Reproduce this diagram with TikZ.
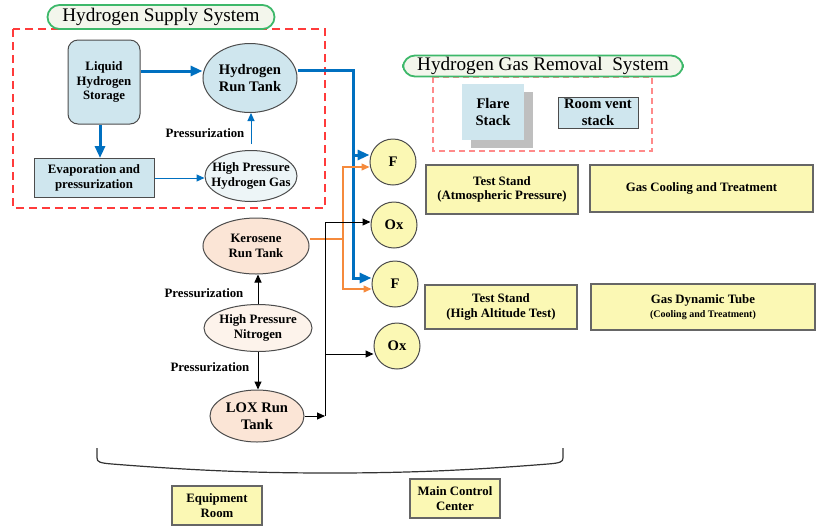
\documentclass[tikz,border=0pt]{standalone}
\usepackage{fontspec}
\setmainfont{Liberation Serif}
\usepackage{tikz}
\usetikzlibrary{arrows.meta}
\usetikzlibrary{shapes.geometric}
\usetikzlibrary{shadows}

\definecolor{hblue}{HTML}{0070C0}
\definecolor{korange}{HTML}{F58A3C}
\definecolor{lblue}{HTML}{CFE6EE}
\definecolor{hgasfill}{HTML}{EDF5F7}
\definecolor{kfill}{HTML}{FBE5D6}
\definecolor{nfill}{HTML}{FDF3EB}
\definecolor{standyellow}{HTML}{FBF8B4}
\definecolor{titlefill}{HTML}{F3F6EC}
\definecolor{titlegreen}{HTML}{3DB86A}
\definecolor{dashred}{HTML}{FF3B3B}
\definecolor{dashpink}{HTML}{FF8A8A}

\begin{document}
\begin{tikzpicture}[x=0.5pt, y=-0.5pt,
    labelb/.style={font=\fontsize{6.4}{7.2}\selectfont\bfseries, align=center, inner sep=0pt},
    bigtext/.style={font=\fontsize{7.3}{8.5}\selectfont\bfseries, align=center, inner sep=0pt},
    sysbox/.style={draw=titlegreen, line width=0.9pt, fill=titlefill, rounded corners=6pt,
        font=\fontsize{9.6}{11}\selectfont, inner sep=0pt},
    hbox/.style={labelb, draw=black!70, line width=0.5pt, fill=lblue},
    tank/.style={ellipse, draw=black!70, line width=0.5pt, inner sep=0pt},
    stand/.style={labelb, draw=black!60, line width=0.6pt, fill=standyellow},
    port/.style={circle, draw=black!70, line width=0.5pt, fill=standyellow, minimum size=23pt, bigtext},
    bigline/.style={hblue, line width=1.5pt, -{Triangle[length=6pt,width=5pt]}},
    thinline/.style={line width=0.5pt, -{Triangle[length=4pt,width=3.5pt]}},
]
    \useasboundingbox (0,0) rectangle (816,527);

    % hydrogen supply
    \draw[dashred, line width=0.7pt, dash pattern=on 4pt off 2.5pt] (13,29) rectangle (325,208);
    \node[sysbox, minimum width=113.5pt, minimum height=12pt] (supplytitle) at (161,17) {Hydrogen Supply System};
    \node[hbox, rounded corners=5pt, minimum width=36pt, minimum height=42pt] (LHS) at (104,82) {Liquid\\Hydrogen\\Storage};
    \node[hbox, minimum width=60pt, minimum height=19.5pt] (EVP) at (94,178) {Evaporation and\\pressurization};
    \node[tank, fill=lblue, minimum width=47pt, minimum height=34.5pt,
        label={[bigtext]center:Hydrogen\\Run Tank}] (HRT) at (250,78) {};
    \node[tank, fill=hgasfill, minimum width=46pt, minimum height=25.5pt,
        label={[labelb]center:High Pressure\\Hydrogen Gas}] (HPHG) at (251,176) {};
    \node[labelb] (pH) at (205,133) {Pressurization};

    \draw[bigline] ([yshift=5.5pt]LHS.east) -- ([yshift=5.5pt]LHS.east -| HRT.west);
    \draw[bigline] ([xshift=-2pt]LHS.south) -- ([xshift=-2pt]LHS.south |- EVP.north);
    \draw[thinline, hblue] (EVP.east) -- (EVP.east -| HPHG.west);
    \draw[thinline, hblue] ([yshift=3pt]HPHG.north) -- (HPHG.north |- HRT.south);

    % hydrogen gas removal
    \draw[dashpink, line width=0.6pt, dash pattern=on 3pt off 2pt] (433,77) rectangle (652,151);
    \node[sysbox, minimum width=140pt, minimum height=10.5pt] (removaltitle) at (543,66) {Hydrogen Gas Removal\ \ System};
    \node[bigtext, fill=lblue, minimum width=31pt, minimum height=28pt,
        drop shadow={shadow xshift=4.5pt, shadow yshift=-4pt, fill=black!25, opacity=1}] (flare) at (493,112) {Flare\\Stack};
    \node[hbox, bigtext, draw=black!70, minimum width=40pt, minimum height=15.5pt] (roomvent) at (598,112.5) {Room vent\\stack};

    % engine ports
    \node[port] (F1) at (393,162) {F};
    \node[port] (Ox1) at (394,225) {Ox};
    \node[port] (F2) at (395,284) {F};
    \node[port] (Ox2) at (397,346) {Ox};

    \node[stand, minimum width=76pt, minimum height=24.5pt] (TSA) at (502,189.5) {Test Stand\\(Atmospheric Pressure)};
    \node[stand, minimum width=111.5pt, minimum height=23.5pt] (GCT) at (701.5,188.5) {Gas Cooling and Treatment};
    \node[stand, minimum width=76pt, minimum height=22pt] (TSH) at (501,307) {Test Stand\\(High Altitude Test)};
    \node[stand, minimum width=112pt, minimum height=23pt] (GDT) at (703,307)
        {Gas Dynamic Tube\\{\fontsize{5}{6}\selectfont(Cooling and Treatment)}};

    % kerosene and lox
    \node[tank, fill=kfill, minimum width=53pt, minimum height=28pt,
        label={[labelb]center:Kerosene\\Run Tank}] (KRT) at (256,246) {};
    \node[tank, fill=nfill, minimum width=54pt, minimum height=23.5pt,
        label={[labelb]center:High Pressure\\Nitrogen}] (HPN) at (258,328) {};
    \node[tank, fill=kfill, minimum width=47pt, minimum height=26pt,
        label={[bigtext]center:LOX Run\\Tank}] (LOX) at (257,416) {};
    \node[labelb] (pK) at (204,293) {Pressurization};
    \node[labelb] (pL) at (210,367) {Pressurization};

    \draw[thinline] (HPN.north) -- (HPN.north |- KRT.south);
    \draw[thinline] (HPN.south) -- (HPN.south |- LOX.north);

    \coordinate (hbus) at (353,70);
    \coordinate (kbus) at (343,239);
    \coordinate (obus) at (325,416);
    \draw[bigline] ([yshift=4pt]HRT.east) -- (hbus) |- ([yshift=3.5pt]F1.west);
    \draw[bigline] (hbus) |- ([yshift=3pt]F2.west);
    \draw[thinline, korange, line width=0.7pt] ([yshift=3.5pt]KRT.east) -- (kbus) |- ([yshift=-2.5pt]F1.west);
    \draw[thinline, korange, line width=0.7pt] (kbus) |- ([yshift=-2.5pt]F2.west);
    \draw[thinline] (LOX.east) -- (obus);
    \draw[thinline] (obus) |- ([yshift=1.5pt]Ox1.west);
    \draw[thinline] ([yshift=-4pt]Ox2.west -| obus) -- ([yshift=-4pt]Ox2.west);

    % rooms
    \draw[line width=0.6pt, black!80] (97,448) -- (97,458) .. controls (97,462) and (100,463) .. (112,464)
        .. controls (200,471) and (260,473) .. (330,473)
        .. controls (400,473) and (460,471) .. (548,464)
        .. controls (560,463) and (563,462) .. (563,458) -- (563,448);
    \node[stand, minimum width=45pt, minimum height=19.5pt] (equip) at (217,505.5) {Equipment\\Room};
    \node[stand, minimum width=45pt, minimum height=19.5pt] (control) at (455,498.5) {Main Control\\Center};
\end{tikzpicture}
\end{document}
